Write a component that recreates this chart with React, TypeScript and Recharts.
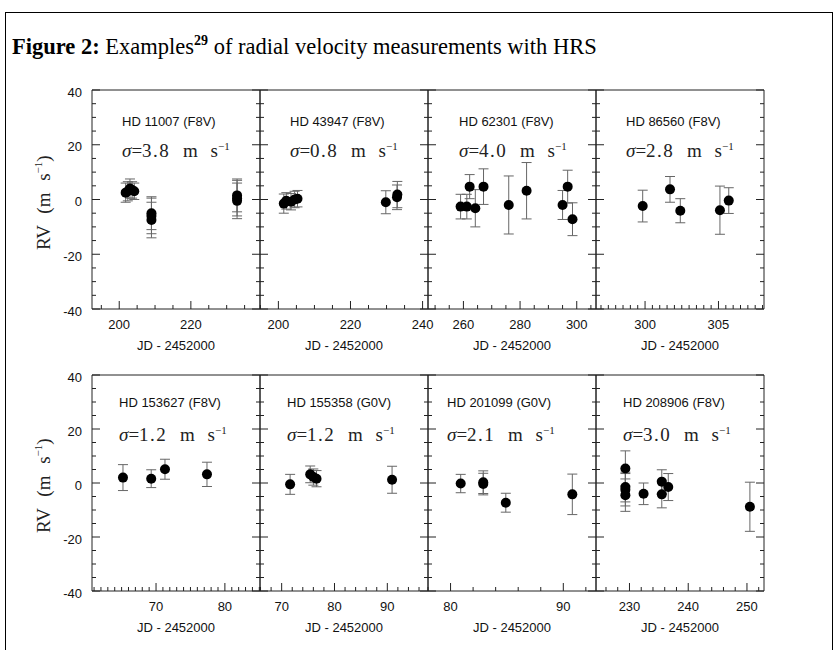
import { ScatterChart, Scatter, XAxis, YAxis, ErrorBar } from "recharts";

// HD 11007 (F8V)
const hd11007Jd = [201.8, 202.4, 203.0, 203.6, 204.2, 209.0, 209.0, 209.0, 232.9, 232.9, 232.9];
const hd11007Rv = [2.5, 3.0, 4.0, 3.5, 3.0, -5.0, -6.0, -7.5, 1.5, 0.5, -0.5];
const hd11007Err = [3.5, 3.5, 3.5, 3.0, 3.0, 6.0, 6.5, 6.5, 6.0, 6.5, 6.5];

// HD 43947 (F8V)
const hd43947Jd = [201.5, 202.2, 203.5, 204.5, 205.3, 229.8, 232.9, 233.0];
const hd43947Rv = [-1.5, -0.5, -0.8, 0.0, 0.3, -1.0, 0.8, 1.8];
const hd43947Err = [3.5, 3.0, 3.0, 3.0, 3.0, 4.2, 4.5, 4.8];

// HD 62301 (F8V)
const hd62301Jd = [259.0, 261.2, 262.2, 264.2, 267.1, 276.0, 282.3, 295.0, 296.8, 298.5];
const hd62301Rv = [-2.6, -2.6, 4.7, -3.2, 4.7, -2.0, 3.2, -2.0, 4.7, -7.2];
const hd62301Err = [4.5, 4.5, 4.4, 6.8, 6.5, 10.6, 10.3, 5.3, 6.0, 6.0];

// HD 86560 (F8V)
const hd86560Jd = [299.84, 301.7, 302.4, 305.1, 305.7];
const hd86560Rv = [-2.4, 3.7, -4.1, -3.9, -0.4];
const hd86560Err = [5.8, 4.7, 4.4, 8.8, 4.7];

// HD 153627 (F8V)
const hd153627Jd = [65.2, 69.3, 71.3, 77.4];
const hd153627Rv = [2.0, 1.6, 5.1, 3.2];
const hd153627Err = [4.8, 3.3, 3.7, 4.5];

// HD 155358 (G0V)
const hd155358Jd = [71.6, 75.4, 76.0, 76.6, 90.9];
const hd155358Rv = [-0.5, 3.2, 2.2, 1.6, 1.2];
const hd155358Err = [3.7, 3.1, 3.0, 3.0, 5.0];

// HD 201099 (G0V)
const hd201099Jd = [80.9, 82.9, 82.9, 84.9, 90.8];
const hd201099Rv = [-0.2, 0.3, -0.4, -7.3, -4.2];
const hd201099Err = [3.4, 4.2, 4.0, 3.5, 7.5];

// HD 208906 (F8V)
const hd208906Jd = [229.3, 229.3, 229.3, 229.3, 232.4, 235.5, 235.5, 236.6, 250.5];
const hd208906Rv = [5.4, -1.5, -2.5, -4.5, -4.0, 0.5, -4.2, -1.5, -8.8];
const hd208906Err = [6.5, 5.5, 6.0, 6.0, 4.0, 4.4, 5.0, 5.0, 9.1];

const starNames = [
  "HD 11007 (F8V)", "HD 43947 (F8V)", "HD 62301 (F8V)", "HD 86560 (F8V)",
  "HD 153627 (F8V)", "HD 155358 (G0V)", "HD 201099 (G0V)", "HD 208906 (F8V)",
];
const sigmas = ["3.8", "0.8", "4.0", "2.8", "1.2", "1.2", "2.1", "3.0"];

// x ranges and tick steps (minor, labelled major)
const xDomains: [number, number][] = [
  [192.4, 239.3], [194.9, 241.5], [247.5, 306.8], [296.66, 308.1],
  [60.7, 85.1], [65.9, 97.7], [78.0, 92.9], [224.3, 252.9],
];
const xMinor = [5, 5, 5, 0.5, 1, 2, 2, 2];
const xMajor = [20, 20, 20, 5, 10, 10, 10, 10];
const yDomain: [number, number] = [-40, 40];

const series = [
  [hd11007Jd, hd11007Rv, hd11007Err],
  [hd43947Jd, hd43947Rv, hd43947Err],
  [hd62301Jd, hd62301Rv, hd62301Err],
  [hd86560Jd, hd86560Rv, hd86560Err],
  [hd153627Jd, hd153627Rv, hd153627Err],
  [hd155358Jd, hd155358Rv, hd155358Err],
  [hd201099Jd, hd201099Rv, hd201099Err],
  [hd208906Jd, hd208906Rv, hd208906Err],
];

// layout
const colLeft = [92, 260, 428, 596];
const PW = 168;
const rowTop = [90, 375];
const rowH = [219, 216];
const textDx = [30, 30, 31, 30, 27, 27, 19, 27];
const nameDy = [32, 28];
const sigmaDy = [56, 55];

const PAD_L = 60, PAD_T = 6, PAD_R = 6, PAD_B = 50;
const FRAME = "#222";
const SANS = "'Liberation Sans', Arial, sans-serif";
const SERIF = "'Liberation Serif', 'Times New Roman', serif";

const makeTicks = (lo: number, hi: number, step: number) => {
  const out: number[] = [];
  for (let v = Math.ceil(lo / step - 1e-9) * step; v <= hi + 1e-9; v += step) out.push(+v.toFixed(3));
  return out;
};
const isMajor = (v: number, step: number) => Math.abs(v / step - Math.round(v / step)) < 1e-6;

const XTick = ({ x, y, payload, major, side }: any) => {
  const big = isMajor(payload.value, major);
  const dir = side === "bottom" ? -1 : 1;
  return (
    <g>
      <line x1={x} x2={x} y1={y} y2={y + dir * (big ? 8 : 4)} stroke={FRAME} strokeWidth={1} />
      {side === "bottom" && big && (
        <text x={x} y={y + 15} textAnchor="middle" dominantBaseline="central" fontSize={13} fontFamily={SANS} fill="#111">
          {payload.value}
        </text>
      )}
    </g>
  );
};

const YTick = ({ x, y, payload, side, labelled }: any) => {
  const big = isMajor(payload.value, 20);
  const dir = side === "left" ? 1 : -1;
  return (
    <g>
      <line x1={x} x2={x + dir * (big ? 8 : 4)} y1={y} y2={y} stroke={FRAME} strokeWidth={1} />
      {labelled && big && (
        <text x={x - 10} y={y + 2} textAnchor="end" dominantBaseline="central" fontSize={13} fontFamily={SANS} fill="#111">
          {payload.value}
        </text>
      )}
    </g>
  );
};

const Dot = (props: any) => <circle cx={props.cx} cy={props.cy} r={5} fill="#000" />;

const Panel = ({ i }: { i: number }) => {
  const row = i < 4 ? 0 : 1;
  const col = i % 4;
  const left = colLeft[col];
  const top = rowTop[row];
  const h = rowH[row];
  const [jd, rv, err] = series[i];
  const data = jd.map((d, k) => ({ jd: d, rv: rv[k], err: err[k] }));
  const xt = makeTicks(xDomains[i][0], xDomains[i][1], xMinor[i]);
  const yt = makeTicks(-40, 40, 5);
  const first = col === 0;
  return (
    <>
      <div style={{ position: "absolute", left: left - PAD_L, top: top - PAD_T }}>
        <ScatterChart
          width={PW + PAD_L + PAD_R}
          height={h + PAD_T + PAD_B}
          margin={{ top: PAD_T - 1, right: PAD_R - 1, bottom: PAD_B - 1, left: PAD_L - 1 }}
        >
          <XAxis dataKey="jd" type="number" domain={xDomains[i]} allowDataOverflow ticks={xt} interval={0}
            height={1} tickSize={0} tickMargin={0} tickLine={false} axisLine={{ stroke: FRAME }}
            tick={(t: any) => <XTick {...t} major={xMajor[i]} side="bottom" />} />
          <XAxis xAxisId="top" orientation="top" type="number" domain={xDomains[i]} allowDataOverflow ticks={xt} interval={0}
            height={1} tickSize={0} tickMargin={0} tickLine={false} axisLine={{ stroke: FRAME }}
            tick={(t: any) => <XTick {...t} major={xMajor[i]} side="top" />} />
          <YAxis dataKey="rv" type="number" domain={yDomain} allowDataOverflow ticks={yt} interval={0}
            width={1} tickSize={0} tickMargin={0} tickLine={false} axisLine={{ stroke: FRAME }}
            tick={(t: any) => <YTick {...t} side="left" labelled={first} />} />
          <YAxis yAxisId="right" orientation="right" type="number" domain={yDomain} allowDataOverflow ticks={yt} interval={0}
            width={1} tickSize={0} tickMargin={0} tickLine={false} axisLine={{ stroke: FRAME }}
            tick={(t: any) => <YTick {...t} side="right" labelled={false} />} />
          <Scatter data={data} isAnimationActive={false} shape={Dot}>
            <ErrorBar dataKey="err" direction="y" width={5} stroke="#666" strokeWidth={1} />
          </Scatter>
        </ScatterChart>
      </div>
      <div style={{ position: "absolute", left: left + textDx[i], top: top + nameDy[row] - 8, fontFamily: SANS, fontSize: 13, lineHeight: "16px", color: "#111", whiteSpace: "nowrap" }}>
        {starNames[i]}
      </div>
      <div style={{ position: "absolute", left: left + textDx[i], top: top + sigmaDy[row] - 11, fontFamily: SERIF, fontSize: 19, lineHeight: "22px", color: "#222", whiteSpace: "nowrap", wordSpacing: 8 }}>
        <i>σ</i>=<span style={{ letterSpacing: 1.5 }}>{sigmas[i]}</span> m s<sup style={{ fontSize: 11 }}>−1</sup>
      </div>
      <div style={{ position: "absolute", left: left, width: PW, top: top + h + 37 - 8, textAlign: "center", fontFamily: SANS, fontSize: 13, lineHeight: "16px", color: "#111" }}>
        JD - 2452000
      </div>
      {first && (
        <div style={{ position: "absolute", left: 41 - 60, top: top + h / 2 - 11, width: 120, textAlign: "center", transform: "rotate(-90deg)", fontFamily: SERIF, fontSize: 19, lineHeight: "22px", color: "#222", whiteSpace: "nowrap", wordSpacing: 7 }}>
          RV (m s<sup style={{ fontSize: 11 }}>−1</sup>)
        </div>
      )}
    </>
  );
};

export default function App() {
  return (
    <div style={{ position: "absolute", left: 0, top: 0, width: 835, height: 650, overflow: "hidden", background: "#fff" }}>
      <div style={{ position: "absolute", left: 5, top: 12, width: 826, height: 700, border: "1.5px solid #000" }} />
      <div style={{ position: "absolute", left: 12, top: 30, fontFamily: SERIF, fontSize: 22.5, lineHeight: "22px", color: "#000", whiteSpace: "nowrap" }}>
        <b>Figure 2:</b> Examples<sup style={{ fontSize: 14, fontWeight: "bold" }}>29</sup> of radial velocity measurements with HRS
      </div>
      {starNames.map((_, i) => (
        <Panel key={i} i={i} />
      ))}
    </div>
  );
}
